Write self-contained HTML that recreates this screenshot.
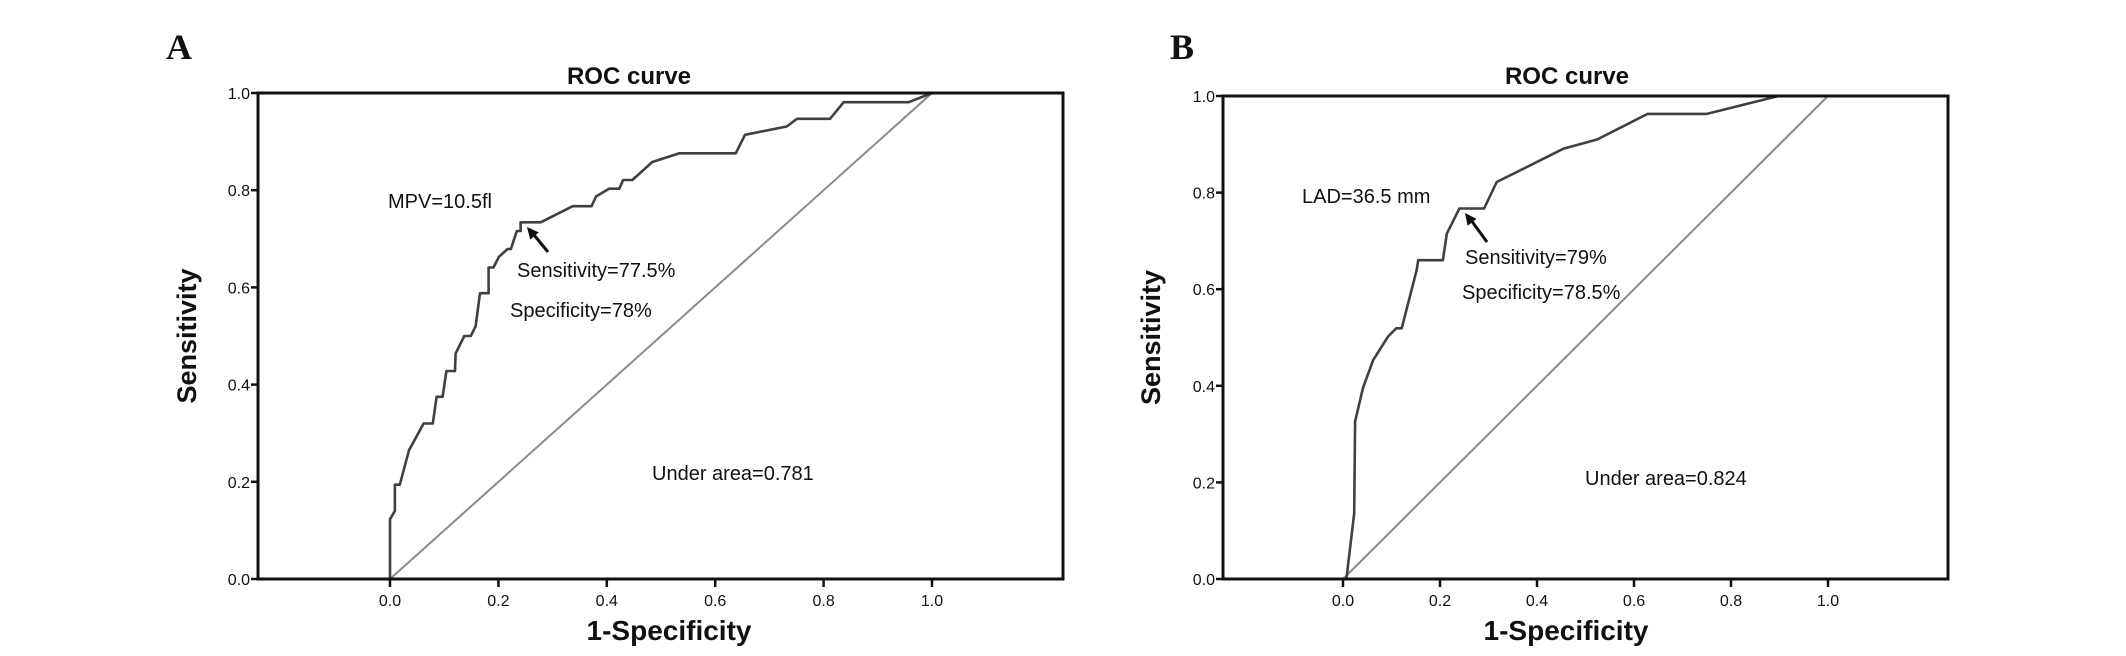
<!DOCTYPE html>
<html><head><meta charset="utf-8">
<style>
html,body{margin:0;padding:0;background:#fff;}
svg{display:block;}
text{font-family:"Liberation Sans",Arial,sans-serif;fill:#111;}
</style></head>
<body>
<svg id="fig" width="2126" height="656" viewBox="0 0 2126 656" xmlns="http://www.w3.org/2000/svg"></svg>
<script>
// Panel A data
const fprA = [0,0,0.009,0.009,0.018,0.035,0.062,0.079,0.086,0.097,0.104,0.12,0.121,0.137,0.149,0.158,0.166,0.182,0.182,0.191,0.201,0.217,0.223,0.234,0.241,0.241,0.278,0.337,0.372,0.38,0.404,0.423,0.43,0.447,0.484,0.534,0.638,0.655,0.732,0.751,0.812,0.837,0.957,1];
const tprA = [0,0.123,0.14,0.194,0.194,0.265,0.32,0.32,0.375,0.375,0.428,0.428,0.464,0.5,0.5,0.52,0.588,0.588,0.641,0.641,0.663,0.679,0.679,0.716,0.716,0.734,0.734,0.767,0.767,0.787,0.803,0.803,0.821,0.821,0.858,0.876,0.876,0.914,0.931,0.947,0.947,0.981,0.981,1];
// Panel B data
const fprB = [0.007,0.023,0.025,0.041,0.062,0.093,0.11,0.121,0.152,0.155,0.206,0.214,0.24,0.291,0.317,0.455,0.524,0.628,0.75,0.898,1];
const tprB = [0,0.136,0.326,0.395,0.453,0.502,0.519,0.519,0.64,0.66,0.66,0.715,0.767,0.767,0.822,0.891,0.91,0.963,0.963,1,1];
const xTicks = [0,0.2,0.4,0.6,0.8,1.0];
const yTicks = [0,0.2,0.4,0.6,0.8,1.0];
const tickLabels = ["0.0","0.2","0.4","0.6","0.8","1.0"];

const NS="http://www.w3.org/2000/svg";
const svg=document.getElementById('fig');
function mk(tag,attrs,parent){const e=document.createElementNS(NS,tag);for(const k in attrs)e.setAttribute(k,attrs[k]);(parent||svg).appendChild(e);return e;}

function panel(cfg){
  const g=mk('g',{});
  
  
  const sx=v=>cfg.x0+v*(cfg.x1-cfg.x0);
  const sy=v=>cfg.bottom-v*(cfg.bottom-cfg.top);
  const L=mk('text',{x:cfg.letterX,y:59,'font-size':36,'font-weight':'bold',style:'font-family:"Liberation Serif",serif'},g);
  L.textContent=cfg.letter;
  
  
  const T=mk('text',{x:cfg.titleX,y:84,'font-size':24,'font-weight':'bold','text-anchor':'middle'},g);
  T.textContent='ROC curve';
  
  
  const d=mk('line',{x1:sx(0),y1:sy(0),x2:sx(1),y2:sy(1),stroke:'#8a8a8a','stroke-width':2},g);
  
  
  let pts=cfg.fpr.map((f,i)=>sx(f).toFixed(1)+','+sy(cfg.tpr[i]).toFixed(1)).join(' ');
  const c=mk('polyline',{points:pts,fill:'none',stroke:'#404040','stroke-width':2.6,'stroke-linejoin':'round'},g);
  
  
  const b=mk('rect',{x:cfg.left,y:cfg.top,width:cfg.right-cfg.left,height:cfg.bottom-cfg.top,fill:'none',stroke:'#111','stroke-width':3},g);
  
  
  yTicks.forEach((v,i)=>{
    mk('line',{x1:cfg.left-7,y1:sy(v),x2:cfg.left,y2:sy(v),stroke:'#111','stroke-width':2.5},g);
    const t=mk('text',{x:cfg.left-8,y:sy(v)+6,'font-size':16,'text-anchor':'end'},g);
    t.textContent=tickLabels[i];
    
    
  });
  xTicks.forEach((v,i)=>{
    mk('line',{x1:sx(v),y1:cfg.bottom,x2:sx(v),y2:cfg.bottom+8,stroke:'#111','stroke-width':2.5},g);
    const t=mk('text',{x:sx(v),y:cfg.bottom+27,'font-size':16,'text-anchor':'middle'},g);
    t.textContent=tickLabels[i];
    
    
  });
  const yt=mk('text',{x:0,y:0,'font-size':27,'font-weight':'bold','text-anchor':'middle',transform:`translate(${cfg.yTitleX},${(cfg.top+cfg.bottom)/2}) rotate(-90)`},g);
  yt.textContent='Sensitivity';
  
  
  const xt=mk('text',{x:cfg.xTitleX,y:640,'font-size':28,'font-weight':'bold','text-anchor':'middle'},g);
  xt.textContent='1-Specificity';
  
  
  cfg.notes.forEach(n=>{
    const t=mk('text',{x:n[0],y:n[1],'font-size':20},g);
    t.textContent=n[2];
    
    
  });
  const a=cfg.arrow;
  const al=mk('line',{x1:a[0],y1:a[1],x2:a[2]+3,y2:a[3]+3,stroke:'#111','stroke-width':3},g);
  
  
  const ang=Math.atan2(a[1]-a[3],a[0]-a[2]);
  const hx=a[2],hy=a[3],L2=13,w=0.45;
  mk('polygon',{points:`${hx},${hy} ${hx+L2*Math.cos(ang-w)},${hy+L2*Math.sin(ang-w)} ${hx+L2*Math.cos(ang+w)},${hy+L2*Math.sin(ang+w)}`,fill:'#111'},g);
}

panel({id:'a',letter:'A',letterX:166,titleX:629,left:258,right:1063,top:93,bottom:579,x0:390,x1:932,
  yTitleX:196,xTitleX:669,fpr:fprA,tpr:tprA,
  notes:[[388,208,'MPV=10.5fl','cutoff-label'],[517,277,'Sensitivity=77.5%','sensitivity-label'],[510,317,'Specificity=78%','specificity-label'],[652,480,'Under area=0.781','auc-label']],
  arrow:[548,252,527,227]});
panel({id:'b',letter:'B',letterX:1170,titleX:1567,left:1223,right:1948,top:96,bottom:579,x0:1343,x1:1828,
  yTitleX:1160,xTitleX:1566,fpr:fprB,tpr:tprB,
  notes:[[1302,203,'LAD=36.5 mm','cutoff-label'],[1465,264,'Sensitivity=79%','sensitivity-label'],[1462,299,'Specificity=78.5%','specificity-label'],[1585,485,'Under area=0.824','auc-label']],
  arrow:[1487,242,1465,213]});
</script>
</body></html>
